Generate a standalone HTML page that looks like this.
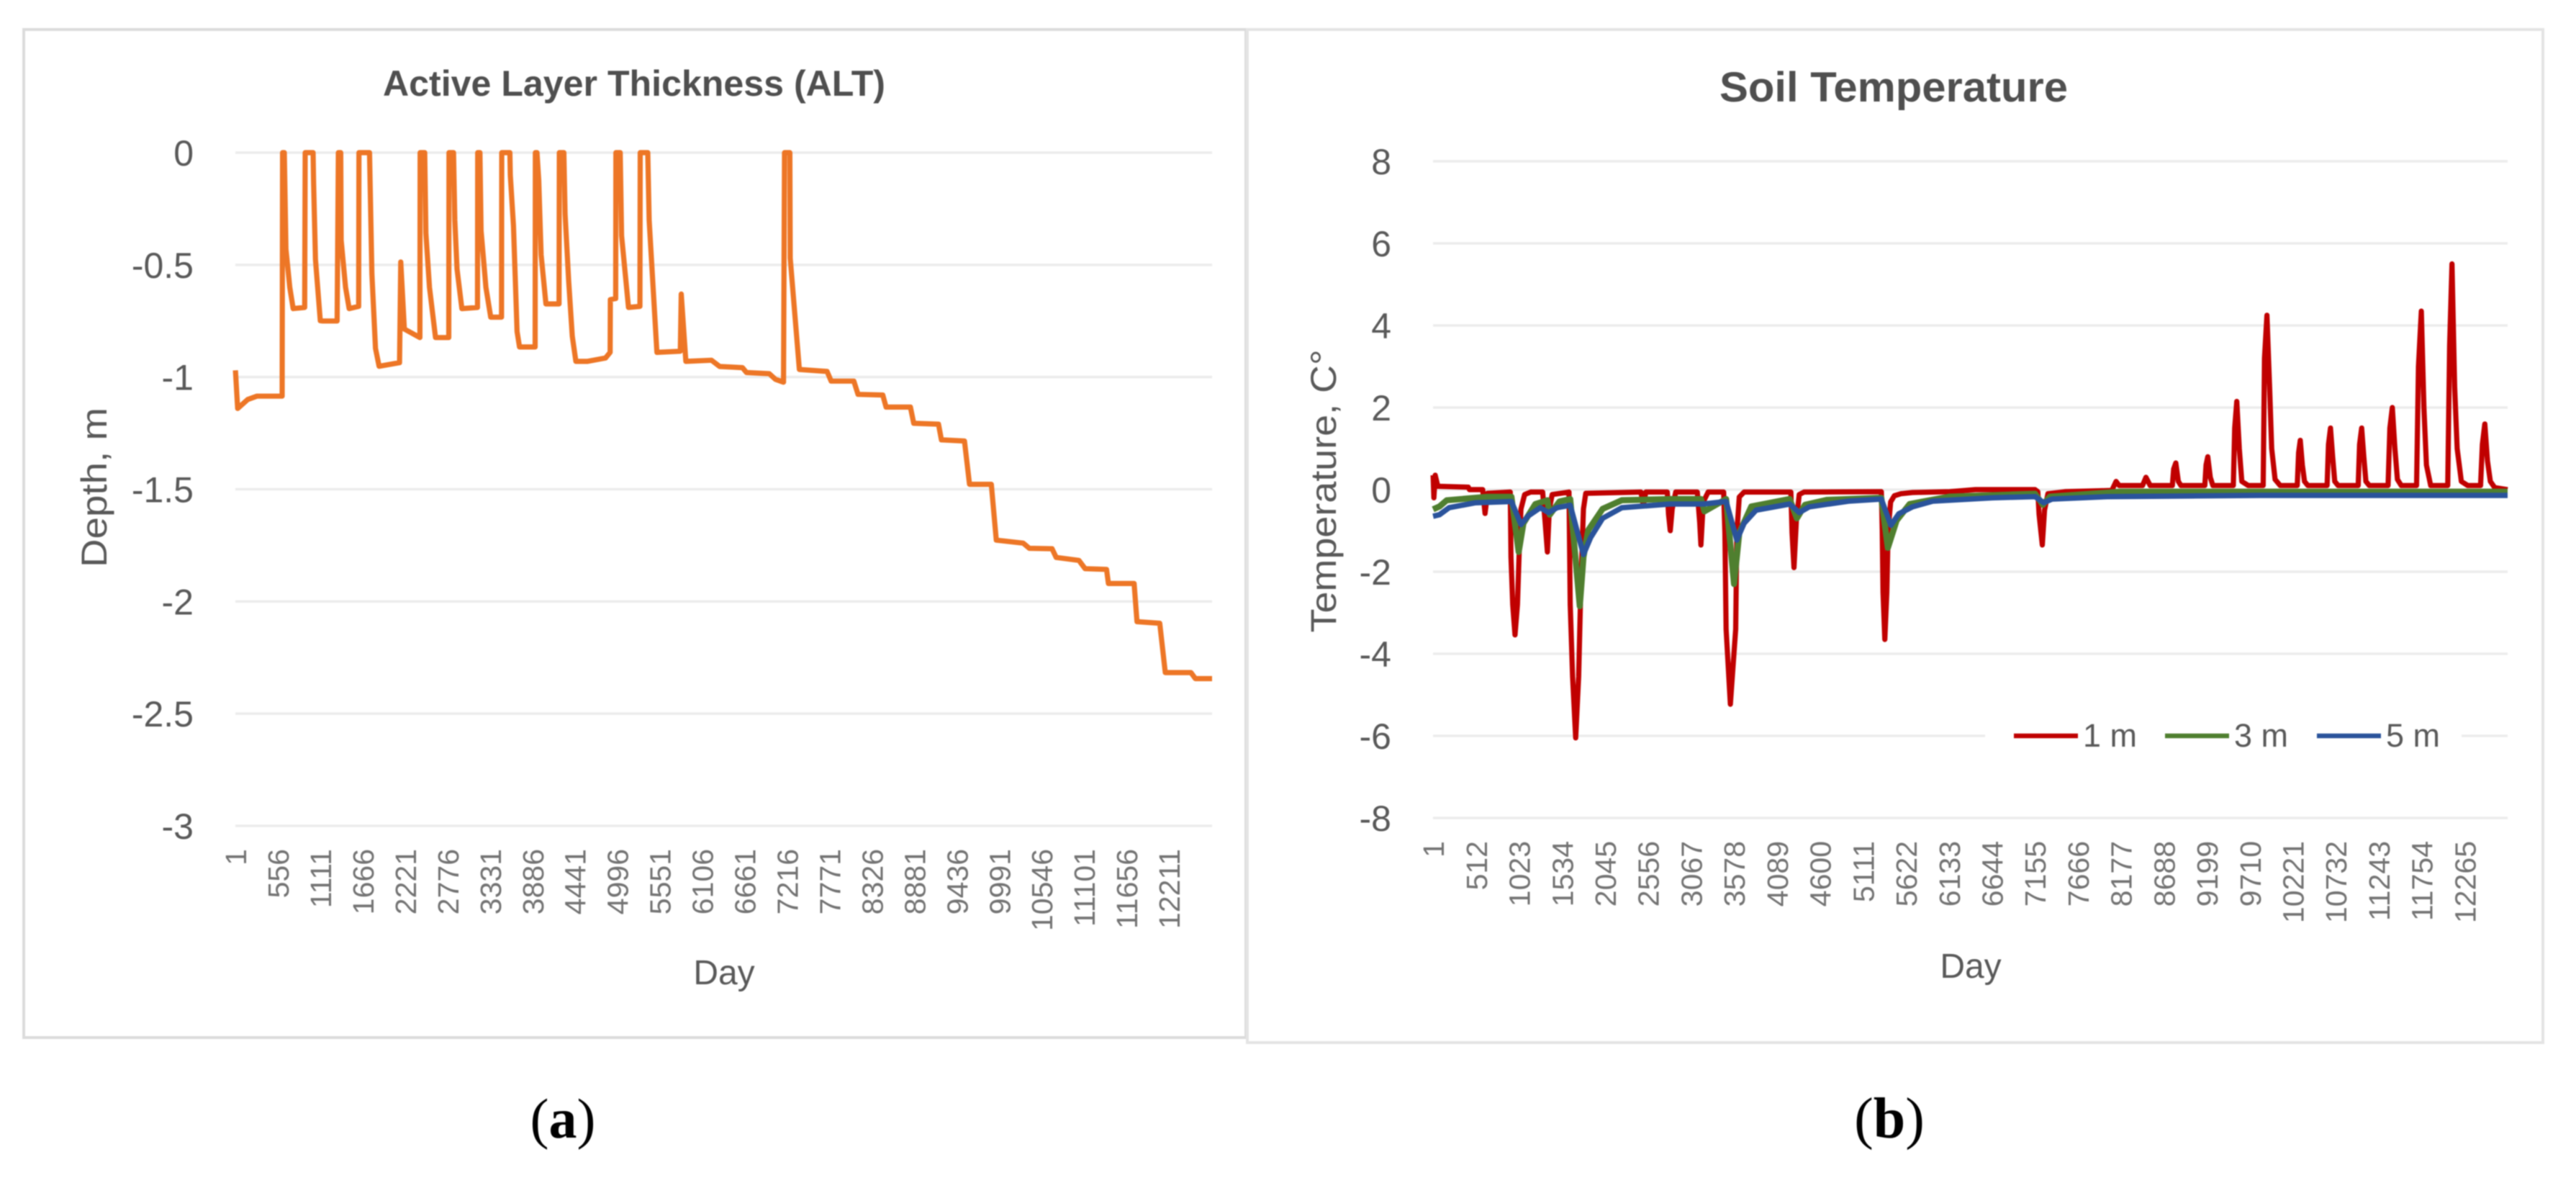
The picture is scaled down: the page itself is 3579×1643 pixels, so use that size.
<!DOCTYPE html>
<html lang="en">
<head>
<meta charset="utf-8">
<title>Active Layer Thickness and Soil Temperature</title>
<style>
html,body{margin:0;padding:0;background:#fff;width:3579px;height:1643px;overflow:hidden}
svg{display:block;filter:blur(0.9px)}
text{font-family:"Liberation Sans",sans-serif;fill:#595959}
</style>
</head>
<body>
<svg id="figure" xmlns="http://www.w3.org/2000/svg" width="3579" height="1643" viewBox="0 0 3579 1643">
  <rect x="0" y="0" width="3579" height="1643" fill="#ffffff"/>
  <rect x="33" y="41" width="1698" height="1400" fill="#fff" stroke="#dcdcdc" stroke-width="4"/>
  <path d="M1733 1448H3533V41H1733Z" fill="#fff" stroke="#e4e4e4" stroke-width="4"/>
  <text x="881" y="133" text-anchor="middle" font-size="50" font-weight="700" textLength="698" lengthAdjust="spacingAndGlyphs" style="fill:#4f4f4f">Active Layer Thickness (ALT)</text>
  <text x="2631" y="141" text-anchor="middle" font-size="58" font-weight="700" textLength="484" lengthAdjust="spacingAndGlyphs" style="fill:#4f4f4f">Soil Temperature</text>
  <text transform="translate(148 677) rotate(-90)" text-anchor="middle" font-size="50" textLength="222" lengthAdjust="spacingAndGlyphs">Depth, m</text>
  <text transform="translate(1856 682) rotate(-90)" text-anchor="middle" font-size="50" textLength="393" lengthAdjust="spacingAndGlyphs">Temperature, C°</text>
  <text x="1006" y="1367" text-anchor="middle" font-size="48">Day</text>
  <text x="2738" y="1358" text-anchor="middle" font-size="48">Day</text>
  <text x="782" y="1580" text-anchor="middle" font-size="78" style="font-family:'Liberation Serif',serif;fill:#000">(<tspan font-weight="700">a</tspan>)</text>
  <text x="2625" y="1580" text-anchor="middle" font-size="80" style="font-family:'Liberation Serif',serif;fill:#000">(<tspan font-weight="700">b</tspan>)</text>
  <g id="chart-a"></g>
  <g id="chart-b"></g>
</svg>
<script>
const totalDays = 12775;

const altTickValues = [0, -0.5, -1, -1.5, -2, -2.5, -3];
const altDayTicks = [1,556,1111,1666,2221,2776,3331,3886,4441,4996,5551,6106,6661,7216,7771,8326,8881,9436,9991,10546,11101,11656,12211];
const altDays = [1,30,162,282,612,618,640,662,712,756,907,913,1017,1023,1048,1111,1143,1331,1347,1378,1384,1441,1488,1613,1616,1755,1786,1833,1880,2147,2163,2210,2414,2417,2477,2492,2539,2618,2791,2794,2853,2870,2900,2963,3167,3170,3199,3214,3277,3340,3481,3484,3591,3596,3638,3685,3717,3921,3924,3945,3968,3999,4062,4234,4237,4297,4313,4360,4407,4454,4602,4842,4902,4905,4974,4977,5034,5052,5142,5292,5295,5394,5412,5514,5820,5832,5892,6227,6335,6632,6686,6983,7064,7170,7183,7253,7257,7377,7739,7793,8090,8144,8468,8511,8830,8873,9197,9235,9537,9602,9888,9953,10304,10385,10682,10736,11033,11114,11395,11419,11755,11793,12091,12163,12499,12557,12775];
const altDepths = [-0.97,-1.14,-1.1,-1.085,-1.085,0,0,-0.43,-0.6,-0.695,-0.69,0,0,-0.134,-0.476,-0.749,-0.75,-0.75,0,0,-0.39,-0.6,-0.695,-0.685,0,0,-0.54,-0.872,-0.952,-0.936,-0.487,-0.786,-0.824,0,0,-0.358,-0.6,-0.824,-0.824,0,0,-0.3,-0.519,-0.695,-0.69,0,0,-0.348,-0.6,-0.733,-0.733,0,0,-0.1,-0.326,-0.797,-0.866,-0.866,0,0,-0.123,-0.455,-0.674,-0.674,0,0,-0.273,-0.572,-0.818,-0.93,-0.93,-0.915,-0.89,-0.655,-0.65,0,0,-0.37,-0.69,-0.685,0,0,-0.3,-0.89,-0.885,-0.63,-0.93,-0.925,-0.953,-0.958,-0.98,-0.985,-1.01,-1.023,0,0,-0.47,-0.966,-0.975,-1.018,-1.018,-1.077,-1.08,-1.134,-1.134,-1.206,-1.21,-1.28,-1.285,-1.478,-1.478,-1.727,-1.74,-1.763,-1.765,-1.804,-1.817,-1.854,-1.857,-1.92,-1.92,-2.09,-2.097,-2.317,-2.317,-2.344,-2.344];

const soilTickValues = [8, 6, 4, 2, 0, -2, -4, -6, -8];
const soilDayTicks = [1,512,1023,1534,2045,2556,3067,3578,4089,4600,5111,5622,6133,6644,7155,7666,8177,8688,9199,9710,10221,10732,11243,11754,12265];
const soilLegendLabels = ["1 m", "3 m", "5 m"];

const temp1mDays = [1,10,26,57,419,433,590,619,647,918,927,947,975,1004,1032,1046,1089,1160,1303,1331,1360,1383,1417,1616,1631,1659,1696,1731,1759,1788,1816,2472,2500,2529,2785,2800,2820,2843,2885,3142,3170,3185,3213,3270,3455,3470,3484,3535,3598,3612,3641,3698,4254,4268,4291,4319,4354,4410,5330,5340,5350,5371,5395,5410,5440,5485,5563,5700,6144,6448,7157,7190,7205,7243,7270,7310,7512,8070,8120,8156,8435,8475,8526,8789,8805,8830,8860,8891,9175,9190,9210,9240,9271,9514,9530,9555,9585,9615,9691,9869,9885,9914,9945,9970,10010,10071,10274,10290,10310,10335,10360,10400,10629,10645,10669,10695,10720,10760,10999,11015,11040,11065,11090,11130,11354,11375,11404,11435,11465,11510,11693,11715,11749,11780,11810,11860,12063,12085,12114,12145,12175,12225,12301,12453,12475,12504,12535,12570,12621,12775];
const temp1mValues = [0.35,-0.2,0.35,0.08,0.06,0,0,-0.58,-0.09,-0.06,-1.64,-2.8,-3.54,-2.8,-1.05,-0.47,-0.12,-0.06,-0.06,-0.76,-1.52,-0.47,-0.12,-0.06,-2.8,-4.56,-6.05,-4.56,-2.2,-0.47,-0.09,-0.06,-0.4,-0.06,-0.06,-0.6,-1,-0.47,-0.06,-0.06,-0.8,-1.35,-0.3,-0.06,-0.06,-1.05,-3.4,-5.23,-3.4,-1.05,-0.18,-0.06,-0.06,-1.05,-1.9,-0.76,-0.12,-0.06,-0.05,-1,-2.5,-3.65,-2.5,-1,-0.3,-0.15,-0.1,-0.07,-0.05,0,0,-0.05,-0.6,-1.35,-0.5,-0.1,-0.05,-0.02,0.2,0.1,0.1,0.3,0.1,0.1,0.5,0.65,0.2,0.1,0.1,0.6,0.8,0.3,0.1,0.1,1.5,2.15,1,0.2,0.1,0.1,3.2,4.25,2.5,1,0.25,0.1,0.1,0.9,1.2,0.6,0.2,0.1,0.1,1.1,1.5,0.8,0.2,0.1,0.1,1.1,1.5,0.8,0.2,0.1,0.1,1.5,2,1,0.25,0.1,0.1,3,4.35,2,0.6,0.1,0.1,3.5,5.5,2.5,1,0.2,0.1,0.1,1.1,1.6,0.7,0.2,0.05,0];

const temp3mDays = [1,77,163,647,932,1018,1075,1217,1360,1388,1503,1631,1745,1788,1845,2016,2244,2814,3185,3227,3484,3578,3641,3784,4240,4325,4422,4681,5329,5407,5511,5666,6144,7157,7249,7335,8171,12775];
const temp3mValues = [-0.48,-0.41,-0.26,-0.175,-0.175,-1.52,-0.82,-0.35,-0.26,-0.61,-0.29,-0.23,-2.84,-1.64,-0.99,-0.47,-0.26,-0.23,-0.23,-0.53,-0.23,-2.3,-1.05,-0.41,-0.23,-0.7,-0.37,-0.25,-0.2,-1.42,-0.75,-0.35,-0.17,-0.1,-0.37,-0.17,-0.05,-0.05];

const temp5mDays = [1,77,191,505,932,1046,1132,1274,1374,1474,1631,1788,1873,2016,2244,2814,3213,3484,3612,3698,3841,4240,4354,4473,4940,5329,5443,5537,5700,5941,6650,7157,7259,7360,8019,9843,12775];
const temp5mValues = [-0.65,-0.61,-0.44,-0.32,-0.29,-0.85,-0.64,-0.44,-0.56,-0.44,-0.38,-1.58,-1.17,-0.7,-0.44,-0.35,-0.35,-0.29,-1.23,-0.82,-0.5,-0.35,-0.56,-0.42,-0.28,-0.23,-0.87,-0.59,-0.42,-0.28,-0.2,-0.17,-0.32,-0.23,-0.17,-0.14,-0.14];

const NS = "http://www.w3.org/2000/svg";

function makeScale(d0, d1, r0, r1) {
  return function (v) { return r0 + (v - d0) * (r1 - r0) / (d1 - d0); };
}

function pathFrom(xs, ys, xScale, yScale) {
  let d = "";
  for (let i = 0; i < xs.length; i++) {
    d += (i ? "L" : "M") + xScale(xs[i]).toFixed(1) + " " + yScale(ys[i]).toFixed(1);
  }
  return d;
}

/* Chart A axis functions */
const ax = makeScale(0, totalDays, 327, 1684);
const ay = makeScale(0, -3, 212, 1147);
const chartA = document.getElementById("chart-a");

altTickValues.forEach(function (v) {
  const g = document.createElementNS(NS, "line");
  
  
  g.setAttribute("x1", 327);
  g.setAttribute("x2", 1684);
  g.setAttribute("y1", ay(v));
  g.setAttribute("y2", ay(v));
  g.setAttribute("stroke", "#ececec");
  g.setAttribute("stroke-width", "3.5");
  chartA.appendChild(g);
  const t = document.createElementNS(NS, "text");
  
  
  t.setAttribute("x", 269);
  t.setAttribute("y", ay(v) + 18);
  t.setAttribute("text-anchor", "end");
  t.setAttribute("font-size", "50");
  t.textContent = String(v);
  chartA.appendChild(t);
});

altDayTicks.forEach(function (v) {
  const t = document.createElementNS(NS, "text");
  
  
  t.setAttribute("transform", "translate(" + (ax(v) + 15) + " 1179) rotate(-90)");
  t.setAttribute("text-anchor", "end");
  t.setAttribute("font-size", "41");
  t.style.fill = "#737373";
  t.textContent = String(v);
  chartA.appendChild(t);
});

const altLine = document.createElementNS(NS, "path");


altLine.setAttribute("d", pathFrom(altDays, altDepths, ax, ay));
altLine.setAttribute("fill", "none");
altLine.setAttribute("stroke", "#ed7626");
altLine.setAttribute("stroke-width", "7.2");
altLine.setAttribute("stroke-linejoin", "round");
chartA.appendChild(altLine);

/* Chart B axis functions */
const bx = makeScale(0, totalDays, 1991, 3484);
const by = makeScale(8, -8, 224, 1136);
const chartB = document.getElementById("chart-b");

soilTickValues.forEach(function (v) {
  const g = document.createElementNS(NS, "line");
  
  
  g.setAttribute("x1", 1991);
  g.setAttribute("x2", 3484);
  g.setAttribute("y1", by(v));
  g.setAttribute("y2", by(v));
  g.setAttribute("stroke", "#ececec");
  g.setAttribute("stroke-width", "3.5");
  chartB.appendChild(g);
  const t = document.createElementNS(NS, "text");
  
  
  t.setAttribute("x", 1933);
  t.setAttribute("y", by(v) + 18);
  t.setAttribute("text-anchor", "end");
  t.setAttribute("font-size", "50");
  t.textContent = String(v);
  chartB.appendChild(t);
});

soilDayTicks.forEach(function (v) {
  const t = document.createElementNS(NS, "text");
  
  
  t.setAttribute("transform", "translate(" + (bx(v) + 15) + " 1168) rotate(-90)");
  t.setAttribute("text-anchor", "end");
  t.setAttribute("font-size", "41");
  t.style.fill = "#737373";
  t.textContent = String(v);
  chartB.appendChild(t);
});

const line1m = document.createElementNS(NS, "path");


line1m.setAttribute("d", pathFrom(temp1mDays, temp1mValues, bx, by));
line1m.setAttribute("fill", "none");
line1m.setAttribute("stroke", "#c00000");
line1m.setAttribute("stroke-width", "7.2");
line1m.setAttribute("stroke-linejoin", "round");
chartB.appendChild(line1m);

const line3m = document.createElementNS(NS, "path");


line3m.setAttribute("d", pathFrom(temp3mDays, temp3mValues, bx, by));
line3m.setAttribute("fill", "none");
line3m.setAttribute("stroke", "#4f7f2f");
line3m.setAttribute("stroke-width", "8.5");
line3m.setAttribute("stroke-linejoin", "round");
chartB.appendChild(line3m);

const line5m = document.createElementNS(NS, "path");


line5m.setAttribute("d", pathFrom(temp5mDays, temp5mValues, bx, by));
line5m.setAttribute("fill", "none");
line5m.setAttribute("stroke", "#2a539b");
line5m.setAttribute("stroke-width", "7.5");
line5m.setAttribute("stroke-linejoin", "round");
chartB.appendChild(line5m);

/* Legend */
const legendBg = document.createElementNS(NS, "rect");


legendBg.setAttribute("x", 2758);
legendBg.setAttribute("y", 990);
legendBg.setAttribute("width", 662);
legendBg.setAttribute("height", 64);
legendBg.setAttribute("fill", "#ffffff");
chartB.appendChild(legendBg);

const legendColors = ["#c00000", "#4f7f2f", "#2a539b"];
const legendStarts = [2798, 3008, 3219];
soilLegendLabels.forEach(function (label, i) {
  const l = document.createElementNS(NS, "line");
  
  
  l.setAttribute("x1", legendStarts[i]);
  l.setAttribute("x2", legendStarts[i] + 89);
  l.setAttribute("y1", 1022);
  l.setAttribute("y2", 1022);
  l.setAttribute("stroke", legendColors[i]);
  l.setAttribute("stroke-width", "6.5");
  chartB.appendChild(l);
  const t = document.createElementNS(NS, "text");
  
  
  t.setAttribute("x", legendStarts[i] + 96);
  t.setAttribute("y", 1037);
  t.setAttribute("font-size", "45");
  t.textContent = label;
  chartB.appendChild(t);
});
</script>
</body>
</html>
